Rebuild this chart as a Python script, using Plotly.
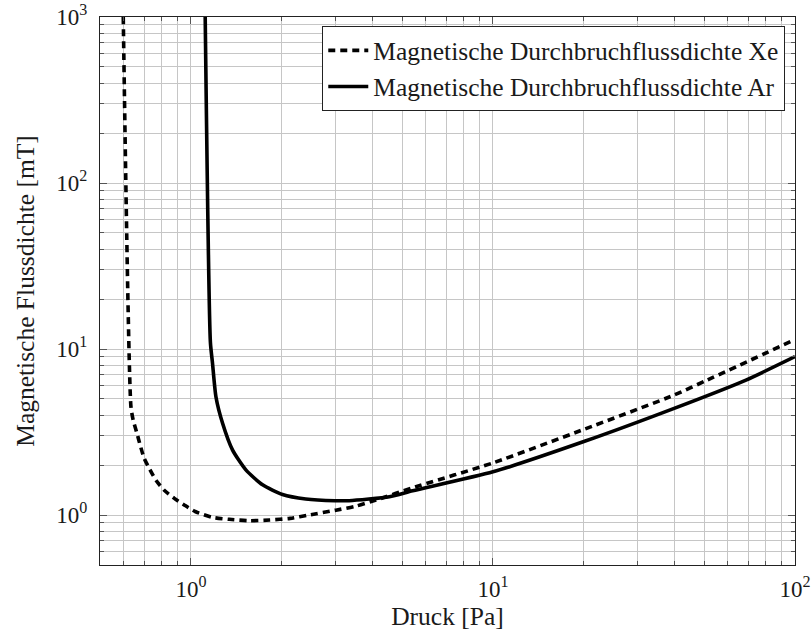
import math
import plotly.graph_objects as go

# ---- data ----
xe_druck = [0.597, 0.633, 0.644, 0.663, 0.679, 0.70, 0.728, 0.766, 0.816, 0.881,
            0.95, 1.033, 1.179, 1.339, 1.56, 1.82, 2.13, 2.46, 3.02, 3.51, 4.10,
            5.42, 10, 20, 39.8, 51.2, 100]
xe_b = [1000, 4.49, 3.73, 3.1, 2.64, 2.2, 1.91, 1.62, 1.41, 1.26,
        1.15, 1.05, 0.968, 0.942, 0.924, 0.933, 0.955, 1.0, 1.07, 1.13, 1.23,
        1.46, 2.06, 3.28, 5.28, 6.5, 11.4]

ar_druck = [1.115, 1.16, 1.179, 1.21, 1.273, 1.374, 1.52, 1.727, 2.01, 2.40,
            3.0, 3.34, 4.54, 5.42, 10, 20, 39.8, 68.8, 100]
ar_b = [1000, 11.0, 8.2, 5.16, 3.57, 2.46, 1.87, 1.52, 1.33, 1.25,
        1.22, 1.22, 1.29, 1.40, 1.82, 2.77, 4.39, 6.5, 9.0]

x_tickvals = [1, 10, 100]
x_ticktext = ["10<sup>0</sup>", "10<sup>1</sup>", "10<sup>2</sup>"]
y_tickvals = [1, 10, 100, 1000]
y_ticktext = ["10<sup>0</sup>", "10<sup>1</sup>", "10<sup>2</sup>", "10<sup>3</sup>"]

name_xe = "Magnetische Durchbruchflussdichte Xe"
name_ar = "Magnetische Durchbruchflussdichte Ar"
x_title = "Druck [Pa]"
y_title = "Magnetische Flussdichte [mT]"

x_min, x_max = 0.5, 100
y_min, y_max = 0.5, 1000

FONT = "Liberation Serif, Times New Roman, serif"
TXT = "#1a1a1a"
GRID = "#c6c6c6"
TICKC = "#555555"

def minor_vals(lo, hi):
    vals = []
    for e in range(-1, 4):
        for m in range(2, 10):
            v = m * 10 ** e
            if lo < v < hi:
                vals.append(v)
    return vals

fig = go.Figure()
fig.add_trace(go.Scatter(x=xe_druck, y=xe_b, mode="lines", name=name_xe,
                         line=dict(color="black", width=3.6, dash="7px,5px",
                                   shape="spline", smoothing=0.6)))
fig.add_trace(go.Scatter(x=ar_druck, y=ar_b, mode="lines", name=name_ar,
                         line=dict(color="black", width=3.6,
                                   shape="spline", smoothing=0.6)))

axis_common = dict(
    type="log",
    automargin=False,
    showline=True, linecolor="#222222", linewidth=1.2, mirror="allticks",
    ticks="inside", ticklen=7, tickwidth=1, tickcolor=TICKC,
    showgrid=True, gridcolor=GRID, gridwidth=1,
    zeroline=False,
    tickfont=dict(family=FONT, size=23, color=TXT),
    tickmode="array",
)

fig.update_xaxes(**axis_common,
                 range=[math.log10(x_min), math.log10(x_max)],
                 tickvals=x_tickvals, ticktext=x_ticktext,
                 ticklabelstandoff=3,
                 title=dict(text=x_title, font=dict(family=FONT, size=25.5, color=TXT), standoff=0),
                 minor=dict(tickmode="array", tickvals=minor_vals(x_min, x_max),
                            ticks="inside", ticklen=4, tickcolor=TICKC,
                            showgrid=True, gridcolor=GRID, gridwidth=1))
fig.update_yaxes(**axis_common,
                 range=[math.log10(y_min), math.log10(y_max)],
                 tickvals=y_tickvals, ticktext=y_ticktext,
                 ticklabelstandoff=7,
                 title=dict(text=y_title, font=dict(family=FONT, size=25.5, color=TXT), standoff=14),
                 minor=dict(tickmode="array", tickvals=minor_vals(y_min, y_max),
                            ticks="inside", ticklen=4, tickcolor=TICKC,
                            showgrid=True, gridcolor=GRID, gridwidth=1))

fig.update_layout(
    width=812, height=631,
    margin=dict(l=100, r=17, t=17, b=66),
    paper_bgcolor="white", plot_bgcolor="white",
    showlegend=True,
    legend=dict(x=0.986, y=0.983, xanchor="right", yanchor="top",
                bgcolor="white", bordercolor="#222222", borderwidth=1,
                font=dict(family=FONT, size=25.5, color=TXT),
                itemwidth=40, tracegroupgap=0),
)

fig.write_html("out.html")
